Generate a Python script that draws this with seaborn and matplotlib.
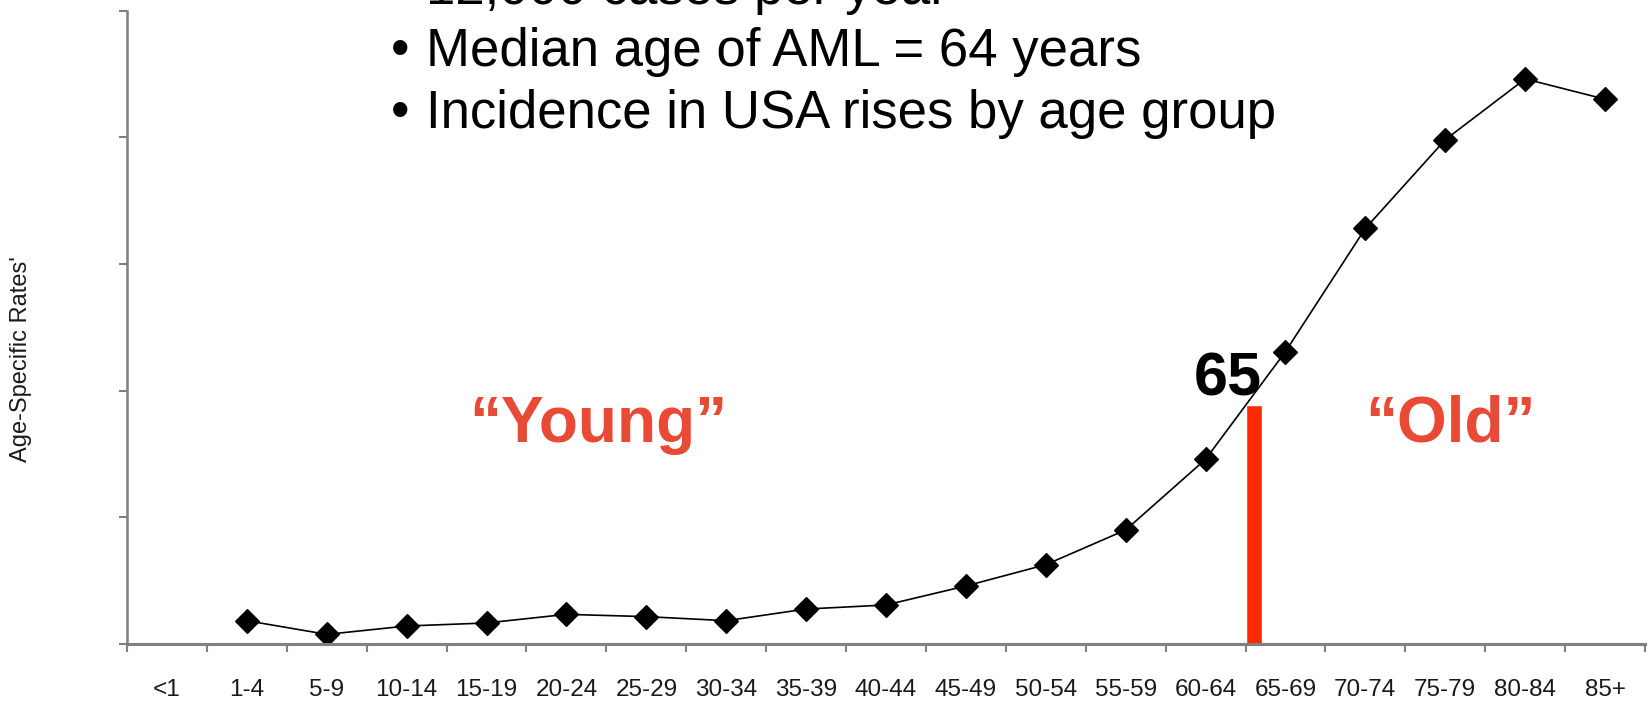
import numpy as np
import pandas as pd
import seaborn as sns
import matplotlib.pyplot as plt

# Age groups and age-specific AML incidence rates (per 100,000)
age_groups = ["<1", "1-4", "5-9", "10-14", "15-19", "20-24", "25-29", "30-34",
              "35-39", "40-44", "45-49", "50-54", "55-59", "60-64", "65-69",
              "70-74", "75-79", "80-84", "85+"]
rates = [np.nan, 0.92, 0.38, 0.71, 0.83, 1.17, 1.08, 0.92, 1.38, 1.54,
         2.29, 3.13, 4.50, 7.29, 11.54, 16.40, 19.90, 22.30, 21.50]
y_ticks = [0, 5, 10, 15, 20, 25]
bullet_lines = ["12,000 cases per year",
                "Median age of AML = 64 years",
                "Incidence in USA rises by age group"]
cutoff_group = "65-69"
cutoff_label = "65"
y_label = "Age-Specific Rates'"

df = pd.DataFrame({"age": age_groups, "rate": rates})

sns.set_theme(style="white")
plt.rcParams["font.family"] = ["Liberation Sans", "DejaVu Sans"]

W, H = 1650, 702
fig = plt.figure(figsize=(W / 100, H / 100), dpi=100)
ax = fig.add_axes([127 / W, 58 / H, (1645 - 127) / W, (H - 58 - 10.5) / H])

sns.pointplot(data=df, x="age", y="rate", order=age_groups, color="black",
              markers="D", markersize=12, linewidth=1.2, errorbar=None, ax=ax)

n = len(age_groups)
ax.set_xlim(-0.5, n - 0.5)
ax.set_ylim(y_ticks[0], y_ticks[-1])

# Red divider at the start of the 65-69 group, up to where the curve crosses it
ci = age_groups.index(cutoff_group)
cut_h = (rates[ci - 1] + rates[ci]) / 2
ax.bar(ci - 0.5, cut_h, width=0.2, align="edge", color="#ff2a00", zorder=1)

# Axes styling
for s in ["top", "right"]:
    ax.spines[s].set_visible(False)
axis_gray = "#808080"
ax.spines["left"].set_color(axis_gray)
ax.spines["left"].set_linewidth(1.8)
ax.spines["bottom"].set_color(axis_gray)
ax.spines["bottom"].set_linewidth(2.2)

ax.set_yticks(y_ticks)
ax.set_yticklabels([])
ax.tick_params(axis="y", which="major", left=True, length=6, width=1.5,
               color=axis_gray, direction="out")

ax.set_xticks(range(n))
ax.set_xticklabels(age_groups, fontsize=17.5, color="#1a1a1a")
ax.tick_params(axis="x", which="major", bottom=False, length=0, pad=25)
ax.set_xticks(np.arange(-0.5, n, 1.0), minor=True)
ax.tick_params(axis="x", which="minor", bottom=True, length=6, width=1.5,
               color=axis_gray, direction="out")
ax.set_xlabel("")
ax.set_ylabel(y_label, fontsize=17, color="#1a1a1a")
ax.yaxis.set_label_coords(-(127 - 32) / (1645 - 127), (H - 359 - 58) / (H - 58 - 10.5))

# Region annotations
ax.text(ci - 0.5 + 0.2, cut_h - 0.12, cutoff_label, ha="right", va="bottom",
        fontsize=44, fontweight="bold", color="black")
text_red = "#e84a36"
fig.text(598 / W, 1 - 442 / H, "\u201cYoung\u201d", ha="center", va="baseline",
         fontsize=46, fontweight="bold", color=text_red)
fig.text(1451 / W, 1 - 442 / H, "\u201cOld\u201d", ha="center", va="baseline",
         fontsize=46, fontweight="bold", color=text_red)

# Bullet list at the top
for i, line in enumerate(bullet_lines):
    base = 4 + 62 * i
    fig.text(391 / W, 1 - base / H, "\u2022", ha="left", va="baseline",
             fontsize=38, color="black")
    fig.text(426 / W, 1 - base / H, line, ha="left", va="baseline",
             fontsize=38, color="black")

fig.savefig("out.png", dpi=100, facecolor="white")
